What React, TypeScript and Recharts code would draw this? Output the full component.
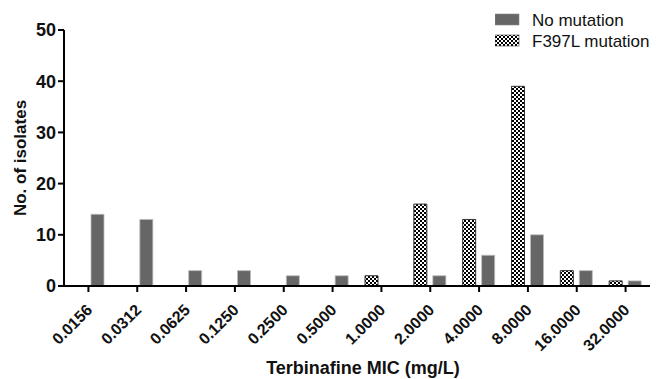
import { Bar, BarChart, XAxis, YAxis } from 'recharts'

const MIC_LABELS = [
  '0.0156', '0.0312', '0.0625', '0.1250', '0.2500', '0.5000',
  '1.0000', '2.0000', '4.0000', '8.0000', '16.0000', '32.0000',
]
const NO_MUTATION = [14, 13, 3, 3, 2, 2, 0, 2, 6, 10, 3, 1]
const F397L = [0, 0, 0, 0, 0, 0, 2, 16, 13, 39, 3, 1]
const Y_TICKS = [0, 10, 20, 30, 40, 50]
const SERIES_NAMES = ['No mutation', 'F397L mutation']

const data = MIC_LABELS.map((mic, i) => ({ mic, none: NO_MUTATION[i], f397l: F397L[i] }))

const FONT = 'Liberation Sans, Arial, sans-serif'

function MicTick(props: any) {
  const { x, y, payload } = props
  const ax = x + 5
  const ay = y + 17
  return (
    <text
      x={ax}
      y={ay}
      transform={`rotate(-45, ${ax}, ${ay})`}
      textAnchor="end"
      fontFamily={FONT}
      fontWeight="bold"
      fontSize={16}
      fill="#111"
    >
      {payload.value}
    </text>
  )
}

// legend drawn on top of the chart so it does not take space from the plot
function LegendBox() {
  const fills = ['#666666', 'url(#checkerLegend)']
  return (
    <svg width={162} height={46} style={{ position: 'absolute', left: 495, top: 12 }}>
      <defs>
        <pattern id="checkerLegend" width="4" height="4" patternUnits="userSpaceOnUse">
          <rect width="4" height="4" fill="#fff" />
          <rect width="2" height="2" fill="#000" />
          <rect x="2" y="2" width="2" height="2" fill="#000" />
        </pattern>
      </defs>
      {SERIES_NAMES.map((name, i) => (
        <g key={name}>
          <rect x={0} y={i * 21 + 2} width={24} height={11} fill={fills[i]} stroke={i ? '#444' : '#888'} strokeWidth={0.6} />
          <text x={37} y={i * 21 + 14} fontFamily={FONT} fontSize={17} fill="#111">
            {name}
          </text>
        </g>
      ))}
    </svg>
  )
}

export default function App() {
  return (
    <div style={{ position: 'absolute', left: 0, top: 0, width: 657, height: 379, background: '#fff' }}>
      <BarChart
        width={657}
        height={379}
        data={data}
        margin={{ top: 30, right: 7, left: 0, bottom: 0 }}
        barSize={13}
        barGap={6}
      >
        <defs>
          <pattern id="checker" width="4" height="4" patternUnits="userSpaceOnUse">
            <rect width="4" height="4" fill="#fff" />
            <rect width="2" height="2" fill="#000" />
            <rect x="2" y="2" width="2" height="2" fill="#000" />
          </pattern>
        </defs>
        <XAxis
          dataKey="mic"
          height={93}
          interval={0}
          tick={<MicTick />}
          tickSize={6}
          axisLine={{ stroke: '#000', strokeWidth: 2 }}
          tickLine={{ stroke: '#000', strokeWidth: 2 }}
          label={{
            content: ({ viewBox }: any) => (
              <text
                x={viewBox.x + viewBox.width / 2 + 6}
                y={374}
                textAnchor="middle"
                fontFamily={FONT}
                fontWeight="bold"
                fontSize={18}
                fill="#111"
              >
                Terbinafine MIC (mg/L)
              </text>
            ),
          }}
        />
        <YAxis
          width={64}
          domain={[0, 50]}
          ticks={Y_TICKS}
          interval={0}
          tickSize={6}
          axisLine={{ stroke: '#000', strokeWidth: 2 }}
          tickLine={{ stroke: '#000', strokeWidth: 2 }}
          tick={{ fill: '#111', fontFamily: FONT, fontWeight: 'bold', fontSize: 18 }}
          label={{
            content: ({ viewBox }: any) => {
              const cy = viewBox.y + viewBox.height / 2
              return (
                <text
                  x={20}
                  y={cy}
                  transform={`rotate(-90, 20, ${cy})`}
                  textAnchor="middle"
                  dominantBaseline="central"
                  fontFamily={FONT}
                  fontWeight="bold"
                  fontSize={17}
                  fill="#111"
                >
                  No. of isolates
                </text>
              )
            },
          }}
        />
        <Bar dataKey="f397l" name="F397L mutation" fill="url(#checker)" stroke="#333" strokeWidth={1} isAnimationActive={false} />
        <Bar dataKey="none" name="No mutation" fill="#666666" stroke="#bbb" strokeWidth={0.8} isAnimationActive={false} />
      </BarChart>
      <LegendBox />
    </div>
  )
}
